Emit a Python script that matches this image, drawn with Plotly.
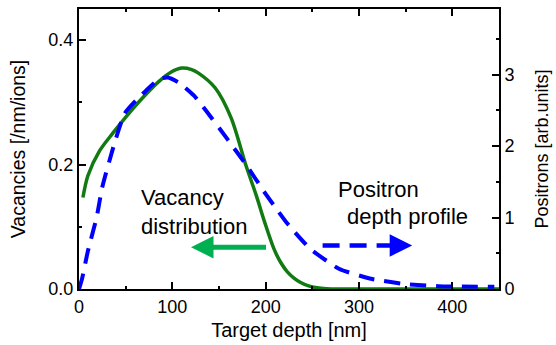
import plotly.graph_objects as go

# Vacancy distribution (left axis)
vac_x = [4.2, 9.5, 22, 36, 51, 68, 86, 98, 110, 120, 128, 146, 163, 179, 190, 199, 209, 216, 223, 230, 237, 246, 255, 265, 280, 300, 350, 400, 450]
vac_y = [0.147, 0.182, 0.222, 0.250, 0.278, 0.307, 0.334, 0.348, 0.355, 0.353, 0.347, 0.323, 0.275, 0.198, 0.150, 0.107, 0.064, 0.043, 0.028, 0.018, 0.011, 0.005, 0.002, 0.0005, 0.0, 0.0, 0.0, 0.0, 0.0]

# Positron depth profile (right axis)
pos_x = [0, 3.2, 9.5, 19, 25, 38, 49, 61, 72, 86, 95, 107, 123, 136, 160, 179, 199, 210, 223, 248, 279, 314, 349, 385, 445]
pos_y = [0, 0.14, 0.53, 1.01, 1.43, 2.04, 2.46, 2.64, 2.78, 2.94, 2.96, 2.89, 2.71, 2.50, 2.08, 1.74, 1.35, 1.15, 0.92, 0.56, 0.28, 0.14, 0.07, 0.04, 0.03]

x_ticks = [0, 100, 200, 300, 400]
y1_ticks = [0.0, 0.2, 0.4]
y1_labels = ["0.0", "0.2", "0.4"]
y2_ticks = [0, 1, 2, 3]

FONT = "Liberation Sans, Arial, sans-serif"

fig = go.Figure()
fig.add_trace(go.Scatter(x=vac_x, y=vac_y, mode="lines",
                         line=dict(color="#117a11", width=3.5, shape="spline", smoothing=0.8),
                         yaxis="y", showlegend=False))
fig.add_trace(go.Scatter(x=pos_x, y=pos_y, mode="lines",
                         line=dict(color="#0000ff", width=4, dash="16px,10px", shape="spline", smoothing=0.5),
                         yaxis="y2", showlegend=False))

# dashed part of positron arrow
fig.add_trace(go.Scatter(x=[261, 339], y=[0.61, 0.61], mode="lines",
                         line=dict(color="#0000ff", width=4.5, dash="17px,10px"),
                         yaxis="y2", showlegend=False))

annotations = [
    dict(x=120, y=0.0672, ax=202, ay=0.0672, xref="x", yref="y", axref="x", ayref="y",
         showarrow=True, arrowhead=2, arrowsize=0.9, arrowwidth=5, arrowcolor="#00b050", text=""),
    dict(x=357, y=0.61, ax=339, ay=0.61, xref="x", yref="y2", axref="x", ayref="y2",
         showarrow=True, arrowhead=2, arrowsize=1.0, arrowwidth=4.5, arrowcolor="#0000ff", text=""),
    dict(x=64, y=0.1232, xref="x", yref="y", text="Vacancy<br>distribution", showarrow=False,
         xanchor="left", yanchor="middle", align="left", font=dict(size=22, family=FONT, color="black")),
    dict(x=275, y=1.39, xref="x", yref="y2", text="Positron", showarrow=False,
         xanchor="left", yanchor="middle", font=dict(size=22, family=FONT, color="black")),
    dict(x=285, y=1.01, xref="x", yref="y2", text="depth profile", showarrow=False,
         xanchor="left", yanchor="middle", font=dict(size=22, family=FONT, color="black")),
]

axis_common = dict(showline=True, linecolor="black", linewidth=2, ticks="inside", ticklen=7,
                   tickwidth=2, tickcolor="black", showgrid=False, zeroline=False,
                   tickfont=dict(size=18, family=FONT, color="black"))

fig.update_layout(
    width=556, height=345,
    margin=dict(l=79, r=53, t=7, b=56),
    paper_bgcolor="white", plot_bgcolor="white",
    font=dict(family=FONT, color="black"),
    xaxis=dict(range=[0, 450], tickvals=x_ticks, mirror="ticks",
               minor=dict(dtick=50, tick0=0, ticks="inside", ticklen=3, tickwidth=1.5, tickcolor="black"),
               title=dict(text="Target depth [nm]", font=dict(size=20, family=FONT), standoff=7),
               **axis_common),
    yaxis=dict(range=[0, 0.45], tickvals=y1_ticks, ticktext=y1_labels,
               minor=dict(dtick=0.1, tick0=0, ticks="inside", ticklen=3, tickwidth=1.5, tickcolor="black"),
               title=dict(text="Vacancies [/nm/ions]", font=dict(size=19.5, family=FONT), standoff=18),
               **axis_common),
    yaxis2=dict(range=[0, 3.92], tickvals=y2_ticks, overlaying="y", side="right",
                minor=dict(dtick=0.5, tick0=0, ticks="inside", ticklen=3, tickwidth=1.5, tickcolor="black"),
                title=dict(text="Positrons [arb.units]", font=dict(size=18, family=FONT), standoff=22),
                **axis_common),
    annotations=annotations,
)

fig.write_html("out.html")
